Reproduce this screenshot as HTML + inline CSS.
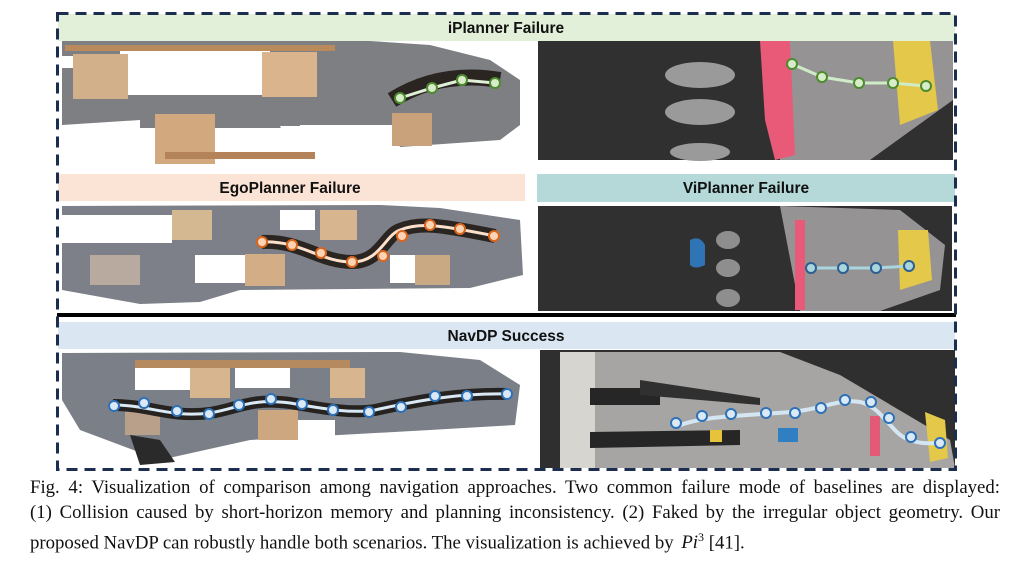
<!DOCTYPE html>
<html><head><meta charset="utf-8"><style>
body{margin:0;background:#fff;width:1024px;height:562px;overflow:hidden;position:relative}
svg{position:absolute;left:0;top:0}
.cap{position:absolute;left:30px;width:970px;font-family:"Liberation Serif",serif;font-size:18.8px;line-height:25px;top:475px;color:#111}
.cap div{text-align:justify;text-align-last:justify;white-space:nowrap;height:25px}
.cap div.l{text-align-last:left}
.h{font-family:"Liberation Sans",sans-serif;font-weight:bold;font-size:15.5px;fill:#111}
</style></head><body>
<svg width="1024" height="562" viewBox="0 0 1024 562">
<rect x="58" y="14" width="897" height="27" fill="#e2efd9"/>
<text class="h" x="506" y="33" text-anchor="middle">iPlanner Failure</text>
<rect x="58" y="174" width="467" height="27" fill="#fbe4d5"/>
<text class="h" x="290" y="193" text-anchor="middle">EgoPlanner Failure</text>
<rect x="537" y="174" width="418" height="28" fill="#b4d9d8"/>
<text class="h" x="746" y="193" text-anchor="middle">ViPlanner Failure</text>
<rect x="58" y="322" width="897" height="27" fill="#dae7f3"/>
<text class="h" x="506" y="341" text-anchor="middle">NavDP Success</text>
<polygon points="62,41 370,41 430,45 490,60 520,80 520,125 500,140 400,147 390,126 280,126 290,150 240,158 140,160 140,120 62,125" fill="#7d7f82"/>
<rect x="62" y="56" width="22" height="12" fill="#fff"/>
<rect x="120" y="50" width="150" height="45" fill="#fff"/>
<rect x="75" y="128" width="225" height="35" fill="#fff"/>
<rect x="300" y="125" width="100" height="20" fill="#fff"/>
<rect x="73" y="54" width="55" height="45" fill="#d2b08a"/>
<rect x="262" y="52" width="55" height="45" fill="#d9b48c"/>
<rect x="155" y="114" width="60" height="50" fill="#d2a97f"/>
<rect x="392" y="113" width="40" height="33" fill="#c9a27c"/>
<rect x="65" y="45" width="270" height="6" fill="#b88a5c"/>
<rect x="165" y="152" width="150" height="7" fill="#b5835a"/>
<path d="M392,100 Q440,70 500,80" stroke="#2a2520" stroke-width="16" fill="none"/>
<path d="M400,98 L432,88 L462,80 L495,83" stroke="#e0f0d8" stroke-width="3" fill="none"/>
<g fill="#d8ecc9" stroke="#4c8c2e" stroke-width="2"><circle cx="400" cy="98" r="5"/><circle cx="432" cy="88" r="5"/><circle cx="462" cy="80" r="5"/><circle cx="495" cy="83" r="5"/></g>
<rect x="538" y="41" width="415" height="119" fill="#303030"/>
<polygon points="770,41 953,41 953,100 870,160 780,160" fill="#959393"/>
<polygon points="893,41 930,41 938,110 900,125" fill="#e3c84a"/>
<polygon points="760,41 790,41 795,155 775,160 765,120" fill="#e85a78"/>
<ellipse cx="700" cy="75" rx="35" ry="13" fill="#9a9a9a"/>
<ellipse cx="700" cy="112" rx="35" ry="13" fill="#9a9a9a"/>
<ellipse cx="700" cy="152" rx="30" ry="9" fill="#9a9a9a"/>
<polyline points="792,64 822,77 859,83 893,83 926,86" stroke="#d0ebc8" stroke-width="3" fill="none"/>
<g fill="#d8ecc9" stroke="#4c8c2e" stroke-width="2"><circle cx="792" cy="64" r="5"/><circle cx="822" cy="77" r="5"/><circle cx="859" cy="83" r="5"/><circle cx="893" cy="83" r="5"/><circle cx="926" cy="86" r="5"/></g>
<polygon points="62,206 380,205 440,208 520,220 523,275 470,288 240,290 200,302 140,304 62,290" fill="#7d8088"/>
<rect x="62" y="215" width="110" height="28" fill="#fff"/>
<rect x="195" y="255" width="50" height="28" fill="#fff"/>
<rect x="390" y="255" width="45" height="28" fill="#fff"/>
<rect x="280" y="210" width="35" height="20" fill="#fff"/>
<rect x="172" y="210" width="40" height="30" fill="#d4b891"/>
<rect x="320" y="210" width="37" height="30" fill="#d7b58e"/>
<rect x="90" y="255" width="50" height="30" fill="#b9aaa0"/>
<rect x="245" y="254" width="40" height="32" fill="#d2ad85"/>
<rect x="415" y="255" width="35" height="30" fill="#c8a983"/>
<path d="M262,242 C300,240 320,262 352,262 C380,262 385,235 400,230 C420,222 440,225 495,236" stroke="#2a2520" stroke-width="14" fill="none"/>
<path d="M262,242 C300,240 320,262 352,262 C380,262 385,235 400,230 C420,222 440,225 495,236" stroke="#fde0cc" stroke-width="3" fill="none"/>
<g fill="#fbd3b5" stroke="#d9661c" stroke-width="2"><circle cx="262" cy="242" r="5"/><circle cx="292" cy="245" r="5"/><circle cx="321" cy="253" r="5"/><circle cx="352" cy="262" r="5"/><circle cx="383" cy="256" r="5"/><circle cx="402" cy="236" r="5"/><circle cx="430" cy="225" r="5"/><circle cx="460" cy="229" r="5"/><circle cx="494" cy="236" r="5"/></g>
<rect x="538" y="206" width="414" height="105" fill="#303030"/>
<polygon points="780,206 900,210 945,245 940,290 880,311 800,311" fill="#959393"/>
<polygon points="898,230 928,230 932,280 900,290" fill="#e3c84a"/>
<rect x="795" y="220" width="10" height="90" fill="#e85a78"/>
<path d="M690,240 q10,-5 15,5 v20 q-10,5 -15,0z" fill="#2f74b5"/>
<ellipse cx="728" cy="240" rx="12" ry="9" fill="#8e8e8e"/><ellipse cx="728" cy="268" rx="12" ry="9" fill="#8e8e8e"/><ellipse cx="728" cy="298" rx="12" ry="9" fill="#8e8e8e"/>
<polyline points="811,268 843,268 876,268 909,266" stroke="#a9d6dd" stroke-width="3" fill="none"/>
<g fill="#a9d6dd" stroke="#2d5e92" stroke-width="2"><circle cx="811" cy="268" r="5"/><circle cx="843" cy="268" r="5"/><circle cx="876" cy="268" r="5"/><circle cx="909" cy="266" r="5"/></g>
<rect x="57" y="313" width="899" height="4" fill="#000"/>
<polygon points="62,353 400,352 480,360 520,385 515,425 430,430 250,440 160,460 80,430 62,400" fill="#7b7f87"/>
<rect x="135" y="360" width="215" height="8" fill="#b48a5e"/>
<rect x="135" y="368" width="55" height="22" fill="#fff"/>
<rect x="235" y="368" width="55" height="20" fill="#fff"/>
<rect x="295" y="420" width="40" height="25" fill="#fff"/>
<rect x="190" y="368" width="40" height="30" fill="#d7b68f"/>
<rect x="330" y="368" width="35" height="30" fill="#d7b68f"/>
<rect x="258" y="410" width="40" height="30" fill="#cca780"/>
<rect x="125" y="410" width="35" height="25" fill="#b9a08a"/>
<path d="M130,435 L160,440 L175,462 L140,465z" fill="#2a2a2a"/>
<path d="M113,405 C150,405 170,418 210,413 C240,408 250,398 290,403 C320,408 350,414 375,410 C420,400 460,393 507,394" stroke="#252220" stroke-width="12" fill="none"/>
<path d="M113,405 C150,405 170,418 210,413 C240,408 250,398 290,403 C320,408 350,414 375,410 C420,400 460,393 507,394" stroke="#dbe9f5" stroke-width="3" fill="none"/>
<g fill="#dbe9f7" stroke="#2d72b8" stroke-width="2"><circle cx="114" cy="406" r="5"/><circle cx="144" cy="403" r="5"/><circle cx="177" cy="411" r="5"/><circle cx="209" cy="414" r="5"/><circle cx="239" cy="405" r="5"/><circle cx="271" cy="399" r="5"/><circle cx="302" cy="404" r="5"/><circle cx="333" cy="410" r="5"/><circle cx="369" cy="412" r="5"/><circle cx="401" cy="407" r="5"/><circle cx="435" cy="396" r="5"/><circle cx="467" cy="396" r="5"/><circle cx="507" cy="394" r="5"/></g>
<rect x="540" y="350" width="415" height="118" fill="#2f2f2f"/>
<polygon points="560,352 780,352 840,375 950,440 955,468 560,468" fill="#a7a5a3"/>
<rect x="560" y="352" width="35" height="116" fill="#d7d5d0"/>
<polygon points="590,388 660,388 660,405 590,405" fill="#262626"/>
<polygon points="640,380 760,398 760,405 640,395" fill="#303030"/>
<polygon points="590,432 740,430 740,445 590,448" fill="#262626"/>
<rect x="778" y="428" width="20" height="14" fill="#2f7fc2"/>
<rect x="710" y="430" width="12" height="12" fill="#e6c33a"/>
<rect x="870" y="416" width="10" height="40" fill="#e25a75"/>
<polygon points="925,412 945,420 948,458 930,462" fill="#e3c84a"/>
<path d="M676,427 C700,415 760,415 790,412 C820,410 840,398 860,402 C880,406 890,430 905,438 C920,445 930,443 945,443" stroke="#d5e6f3" stroke-width="4" fill="none"/>
<g fill="#dbe9f7" stroke="#2d72b8" stroke-width="2"><circle cx="676" cy="423" r="5"/><circle cx="702" cy="416" r="5"/><circle cx="731" cy="414" r="5"/><circle cx="766" cy="413" r="5"/><circle cx="795" cy="413" r="5"/><circle cx="821" cy="408" r="5"/><circle cx="845" cy="400" r="5"/><circle cx="871" cy="402" r="5"/><circle cx="889" cy="418" r="5"/><circle cx="911" cy="437" r="5"/><circle cx="940" cy="443" r="5"/></g>
<rect x="57.5" y="13.5" width="898" height="456" fill="none" stroke="#1c2e50" stroke-width="3" stroke-dasharray="11,7"/>
</svg>
<div class="cap">
<div>Fig. 4: Visualization of comparison among navigation approaches. Two common failure mode of baselines are displayed:</div>
<div>(1) Collision caused by short-horizon memory and planning inconsistency. (2) Faked by the irregular object geometry. Our</div>
<div class="l">proposed NavDP can robustly handle both scenarios. The visualization is achieved by <i style="margin-left:3px">Pi</i><sup style="font-size:12px">3</sup> [41].</div>
</div>
</body></html>
